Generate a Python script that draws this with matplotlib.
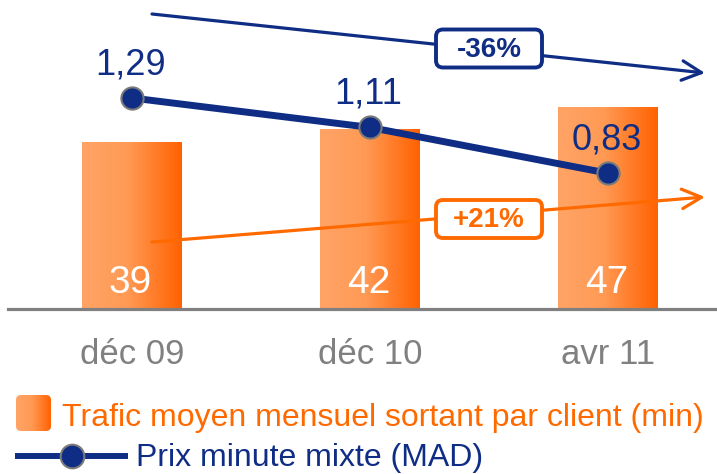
import numpy as np
import matplotlib
matplotlib.use('Agg')
import matplotlib.pyplot as plt
from matplotlib.colors import LinearSegmentedColormap
from matplotlib.patches import FancyBboxPatch

plt.rcParams['font.family'] = ['Liberation Sans', 'DejaVu Sans']

# data
periods = ['déc 09', 'déc 10', 'avr 11']
trafic = [39, 42, 47]
prix = [1.29, 1.11, 0.83]
prix_labels = ['1,29', '1,11', '0,83']
change_prix = '-36%'
change_trafic = '+21%'
legend_trafic = 'Trafic moyen mensuel sortant par client (min)'
legend_prix = 'Prix minute mixte (MAD)'

navy = '#0f2d84'
orange = '#ff6a00'
grey = '#808080'
bar_cmap = LinearSegmentedColormap.from_list(
    'bar', [(0, '#ffa466'), (0.45, '#ff9a55'), (1, '#ff6200')])
grad = np.linspace(0, 1, 256).reshape(1, -1)

W, H = 717, 474
fig = plt.figure(figsize=(W / 100, H / 100), dpi=100)

# main axes: bottom at y=309 px, left at x=8 px
ax = fig.add_axes([8 / W, (H - 309) / H, 1 - 8 / W, 309 / H])
x = np.arange(len(periods))
bars = ax.bar(x, trafic, width=0.42, color='none', zorder=2)
for b in bars:
    x0, y0 = b.get_x(), b.get_y()
    im = ax.imshow(grad, extent=[x0, x0 + b.get_width(), y0, y0 + b.get_height()],
                   aspect='auto', cmap=bar_cmap, zorder=1)
    im.set_clip_path(b)
for xi, v in zip(x, trafic):
    ax.annotate(str(v), (xi, 0), xytext=(-1, 11.5), textcoords='offset points',
                ha='center', va='baseline', color='white', fontsize=28, zorder=5)

ax.set_xlim(-0.521, 2.458)
ax.set_ylim(0, 72.0)
ax.set_xticks(x)
ax.set_xticklabels(periods, fontsize=25, color=grey)
ax.tick_params(axis='x', length=0, pad=21)
ax.set_yticks([])
for s in ['top', 'left', 'right']:
    ax.spines[s].set_visible(False)
ax.spines['bottom'].set_color(grey)
ax.spines['bottom'].set_linewidth(2.3)
ax.patch.set_visible(False)

ax2 = ax.twinx()
ax2.set_ylim(0, 1.889)
ax2.plot(x, prix, color=navy, lw=5, marker='o', ms=16, mfc=navy,
         mec='#7a7a7a', mew=1.5, zorder=3)
for xi, v, lab in zip(x, prix, prix_labels):
    ax2.annotate(lab, (xi, v), xytext=(-1, 17), textcoords='offset points',
                 ha='center', va='baseline', color=navy, fontsize=26)
ax2.set_yticks([])
for s in ax2.spines.values():
    s.set_visible(False)

# overlay in pixel coordinates for arrows, boxes and legend
ov = fig.add_axes([0, 0, 1, 1], zorder=10)
ov.set_xlim(0, W)
ov.set_ylim(H, 0)
ov.axis('off')
ov.patch.set_visible(False)

head = '->,head_length=0.7,head_width=0.35'
ov.annotate('', xy=(705, 73), xytext=(152, 14),
            arrowprops=dict(arrowstyle=head, color=navy, lw=2.3,
                            mutation_scale=20, shrinkA=0, shrinkB=0))
ov.annotate('', xy=(705, 197), xytext=(152, 242),
            arrowprops=dict(arrowstyle=head, color=orange, lw=2.3,
                            mutation_scale=20, shrinkA=0, shrinkB=0))

for (cx, cy), txt, col in [((489, 48.5), change_prix, navy),
                           ((489, 219), change_trafic, orange)]:
    box = FancyBboxPatch((cx - 53, cy - 19), 106, 38,
                         boxstyle='round,pad=0,rounding_size=7',
                         fc='white', ec=col, lw=2.8, zorder=3)
    ov.add_patch(box)
    ov.text(cx, cy + 1, txt, ha='center', va='center', color=col,
            fontsize=20, fontweight='bold', zorder=4)

# legend
sw = FancyBboxPatch((16, 395), 35, 36, boxstyle='round,pad=0,rounding_size=5',
                    fc='none', ec='none')
ov.add_patch(sw)
im = ov.imshow(grad, extent=[16, 51, 431, 395], aspect='auto', cmap=bar_cmap)
im.set_clip_path(sw)
ov.set_xlim(0, W)
ov.set_ylim(H, 0)
ov.text(62, 426, legend_trafic, color=orange, fontsize=23, va='baseline')

ov.plot([15, 128], [456, 456], color=navy, lw=4.3, solid_capstyle='butt')
ov.plot([72], [456], marker='o', ms=17, mfc=navy, mec='#7a7a7a', mew=1.5)
ov.text(136, 466, legend_prix, color=navy, fontsize=23, va='baseline')

fig.savefig('out.png', dpi=100)
